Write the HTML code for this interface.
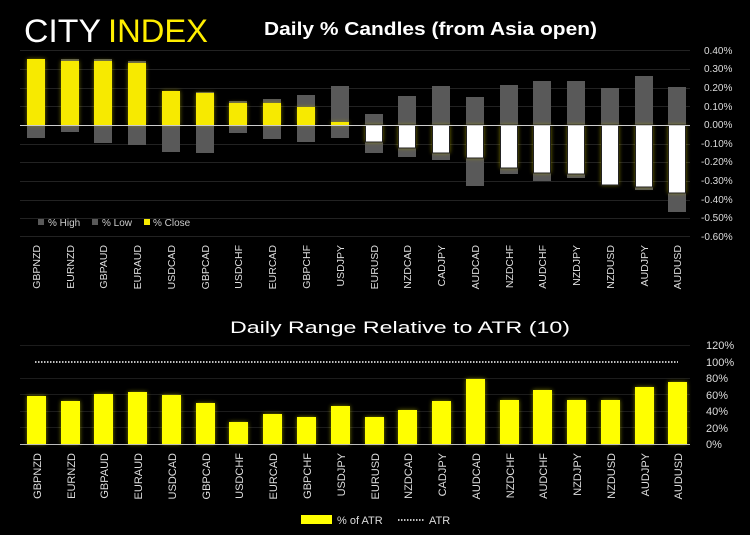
<!DOCTYPE html>
<html><head><style>
html,body{margin:0;padding:0;background:#000;}
svg{display:block;font-family:"Liberation Sans",sans-serif;}
</style></head><body>
<svg width="750" height="535" viewBox="0 0 750 535" xmlns="http://www.w3.org/2000/svg">
<defs>
<filter id="g" x="-50%" y="-50%" width="200%" height="200%"><feGaussianBlur stdDeviation="2"/></filter>
</defs>
<rect width="750" height="535" fill="#000"/>
<text x="24" y="42" font-size="32" fill="#fff" textLength="77" lengthAdjust="spacingAndGlyphs">CITY</text>
<text x="108" y="42" font-size="32" fill="#ffee00" textLength="100" lengthAdjust="spacingAndGlyphs">INDEX</text>
<text x="264" y="35" font-size="18" font-weight="bold" fill="#fff" textLength="333" lengthAdjust="spacingAndGlyphs">Daily % Candles (from Asia open)</text>
<g stroke="#222" stroke-width="1">
<line x1="20" x2="690" y1="50.5" y2="50.5"/><line x1="20" x2="690" y1="69.5" y2="69.5"/><line x1="20" x2="690" y1="88.5" y2="88.5"/><line x1="20" x2="690" y1="106.5" y2="106.5"/><line x1="20" x2="690" y1="144.5" y2="144.5"/><line x1="20" x2="690" y1="162.5" y2="162.5"/><line x1="20" x2="690" y1="181.5" y2="181.5"/><line x1="20" x2="690" y1="200.5" y2="200.5"/><line x1="20" x2="690" y1="218.5" y2="218.5"/><line x1="20" x2="690" y1="236.5" y2="236.5"/>
</g>
<g font-size="10" fill="#ddd">
<text x="704" y="54">0.40%</text><text x="704" y="72">0.30%</text><text x="704" y="91">0.20%</text><text x="704" y="110">0.10%</text><text x="704" y="128">0.00%</text><text x="701" y="147">-0.10%</text><text x="701" y="165">-0.20%</text><text x="701" y="184">-0.30%</text><text x="701" y="203">-0.40%</text><text x="701" y="221">-0.50%</text><text x="701" y="240">-0.60%</text>
</g>
<!-- gray high-low -->
<g fill="#595959">
<rect x="27" y="59" width="18" height="79"/><rect x="61" y="59" width="18" height="73"/><rect x="94" y="59" width="18" height="84"/><rect x="128" y="61" width="18" height="84"/><rect x="162" y="91" width="18" height="61"/><rect x="196" y="92" width="18" height="61"/><rect x="229" y="101" width="18" height="32"/><rect x="263" y="99" width="18" height="40"/><rect x="297" y="95" width="18" height="47"/><rect x="331" y="86" width="18" height="52"/><rect x="365" y="114" width="18" height="39"/><rect x="398" y="96" width="18" height="61"/><rect x="432" y="86" width="18" height="74"/><rect x="466" y="97" width="18" height="89"/><rect x="500" y="85" width="18" height="89"/><rect x="533" y="81" width="18" height="100"/><rect x="567" y="81" width="18" height="97"/><rect x="601" y="88" width="18" height="97"/><rect x="635" y="76" width="18" height="114"/><rect x="668" y="87" width="18" height="125"/>
</g>
<!-- glows -->
<g fill="#aaa000" opacity="0.7" filter="url(#g)">
<rect x="27" y="59" width="18" height="66"/><rect x="61" y="61" width="18" height="64"/><rect x="94" y="61" width="18" height="64"/><rect x="128" y="63" width="18" height="62"/><rect x="162" y="91" width="18" height="34"/><rect x="196" y="93" width="18" height="32"/><rect x="229" y="103" width="18" height="22"/><rect x="263" y="103" width="18" height="22"/><rect x="297" y="107" width="18" height="18"/><rect x="331" y="122" width="18" height="3"/>
<rect x="365" y="125" width="18" height="17"/><rect x="398" y="125" width="18" height="23"/><rect x="432" y="125" width="18" height="28"/><rect x="466" y="125" width="18" height="33"/><rect x="500" y="125" width="18" height="43"/><rect x="533" y="125" width="18" height="48"/><rect x="567" y="125" width="18" height="49"/><rect x="601" y="125" width="18" height="60"/><rect x="635" y="125" width="18" height="62"/><rect x="668" y="125" width="18" height="68"/>
</g>
<g fill="#f7ea00">
<rect x="27" y="59" width="18" height="66"/><rect x="61" y="61" width="18" height="64"/><rect x="94" y="61" width="18" height="64"/><rect x="128" y="63" width="18" height="62"/><rect x="162" y="91" width="18" height="34"/><rect x="196" y="93" width="18" height="32"/><rect x="229" y="103" width="18" height="22"/><rect x="263" y="103" width="18" height="22"/><rect x="297" y="107" width="18" height="18"/><rect x="331" y="122" width="18" height="3"/>
</g>
<g fill="#fff" stroke="#222" stroke-width="1">
<rect x="365.5" y="125" width="17" height="17"/><rect x="398.5" y="125" width="17" height="23"/><rect x="432.5" y="125" width="17" height="28"/><rect x="466.5" y="125" width="17" height="33"/><rect x="500.5" y="125" width="17" height="43"/><rect x="533.5" y="125" width="17" height="48"/><rect x="567.5" y="125" width="17" height="49"/><rect x="601.5" y="125" width="17" height="60"/><rect x="635.5" y="125" width="17" height="62"/><rect x="668.5" y="125" width="17" height="68"/>
</g>
<line x1="20" x2="690" y1="125.5" y2="125.5" stroke="#ccc" stroke-width="1"/>
<!-- legend top -->
<rect x="38" y="219" width="6" height="6" fill="#595959"/><text x="48" y="226" font-size="10" fill="#ccc">% High</text>
<rect x="92" y="219" width="6" height="6" fill="#595959"/><text x="102" y="226" font-size="10" fill="#ccc">% Low</text>
<rect x="144" y="219" width="6" height="6" fill="#f7ea00"/><text x="153" y="226" font-size="10" fill="#ccc">% Close</text>
<!-- top x labels -->
<g font-size="10.5" fill="#ddd" text-anchor="end">
<text transform="translate(40,245) rotate(-90)">GBPNZD</text><text transform="translate(74,245) rotate(-90)">EURNZD</text><text transform="translate(107,245) rotate(-90)">GBPAUD</text><text transform="translate(141,245) rotate(-90)">EURAUD</text><text transform="translate(175,245) rotate(-90)">USDCAD</text><text transform="translate(209,245) rotate(-90)">GBPCAD</text><text transform="translate(242,245) rotate(-90)">USDCHF</text><text transform="translate(276,245) rotate(-90)">EURCAD</text><text transform="translate(310,245) rotate(-90)">GBPCHF</text><text transform="translate(344,245) rotate(-90)">USDJPY</text><text transform="translate(378,245) rotate(-90)">EURUSD</text><text transform="translate(411,245) rotate(-90)">NZDCAD</text><text transform="translate(445,245) rotate(-90)">CADJPY</text><text transform="translate(479,245) rotate(-90)">AUDCAD</text><text transform="translate(513,245) rotate(-90)">NZDCHF</text><text transform="translate(546,245) rotate(-90)">AUDCHF</text><text transform="translate(580,245) rotate(-90)">NZDJPY</text><text transform="translate(614,245) rotate(-90)">NZDUSD</text><text transform="translate(648,245) rotate(-90)">AUDJPY</text><text transform="translate(681,245) rotate(-90)">AUDUSD</text>
</g>
<!-- bottom chart -->
<text x="400" y="333" font-size="17" fill="#fff" text-anchor="middle" textLength="340" lengthAdjust="spacingAndGlyphs">Daily Range Relative to ATR (10)</text>
<g stroke="#1c1c1c"><line x1="20" x2="690" y1="345.5" y2="345.5"/><line x1="20" x2="690" y1="378.5" y2="378.5"/><line x1="20" x2="690" y1="394.5" y2="394.5"/><line x1="20" x2="690" y1="411.5" y2="411.5"/><line x1="20" x2="690" y1="427.5" y2="427.5"/></g>
<g font-size="11" fill="#ddd">
<text x="706" y="349">120%</text><text x="706" y="366">100%</text><text x="706" y="382">80%</text><text x="706" y="399">60%</text><text x="706" y="415">40%</text><text x="706" y="432">20%</text><text x="706" y="448">0%</text>
</g>
<g fill="#cccc00" opacity="0.6" filter="url(#g)">
<rect x="27" y="396" width="19" height="48"/><rect x="61" y="401" width="19" height="43"/><rect x="94" y="394" width="19" height="50"/><rect x="128" y="392" width="19" height="52"/><rect x="162" y="395" width="19" height="49"/><rect x="196" y="403" width="19" height="41"/><rect x="229" y="422" width="19" height="22"/><rect x="263" y="414" width="19" height="30"/><rect x="297" y="417" width="19" height="27"/><rect x="331" y="406" width="19" height="38"/><rect x="365" y="417" width="19" height="27"/><rect x="398" y="410" width="19" height="34"/><rect x="432" y="401" width="19" height="43"/><rect x="466" y="379" width="19" height="65"/><rect x="500" y="400" width="19" height="44"/><rect x="533" y="390" width="19" height="54"/><rect x="567" y="400" width="19" height="44"/><rect x="601" y="400" width="19" height="44"/><rect x="635" y="387" width="19" height="57"/><rect x="668" y="382" width="19" height="62"/>
</g>
<g fill="#ffff00">
<rect x="27" y="396" width="19" height="48"/><rect x="61" y="401" width="19" height="43"/><rect x="94" y="394" width="19" height="50"/><rect x="128" y="392" width="19" height="52"/><rect x="162" y="395" width="19" height="49"/><rect x="196" y="403" width="19" height="41"/><rect x="229" y="422" width="19" height="22"/><rect x="263" y="414" width="19" height="30"/><rect x="297" y="417" width="19" height="27"/><rect x="331" y="406" width="19" height="38"/><rect x="365" y="417" width="19" height="27"/><rect x="398" y="410" width="19" height="34"/><rect x="432" y="401" width="19" height="43"/><rect x="466" y="379" width="19" height="65"/><rect x="500" y="400" width="19" height="44"/><rect x="533" y="390" width="19" height="54"/><rect x="567" y="400" width="19" height="44"/><rect x="601" y="400" width="19" height="44"/><rect x="635" y="387" width="19" height="57"/><rect x="668" y="382" width="19" height="62"/>
</g>
<line x1="20" x2="690" y1="444.5" y2="444.5" stroke="#bbb"/>
<line x1="35" x2="678" y1="362" y2="362" stroke="#fff" stroke-width="1.5" stroke-dasharray="1.5,1.5"/>
<g font-size="11" fill="#ddd" text-anchor="end">
<text transform="translate(41,453) rotate(-90)">GBPNZD</text><text transform="translate(75,453) rotate(-90)">EURNZD</text><text transform="translate(108,453) rotate(-90)">GBPAUD</text><text transform="translate(142,453) rotate(-90)">EURAUD</text><text transform="translate(176,453) rotate(-90)">USDCAD</text><text transform="translate(210,453) rotate(-90)">GBPCAD</text><text transform="translate(243,453) rotate(-90)">USDCHF</text><text transform="translate(277,453) rotate(-90)">EURCAD</text><text transform="translate(311,453) rotate(-90)">GBPCHF</text><text transform="translate(345,453) rotate(-90)">USDJPY</text><text transform="translate(379,453) rotate(-90)">EURUSD</text><text transform="translate(412,453) rotate(-90)">NZDCAD</text><text transform="translate(446,453) rotate(-90)">CADJPY</text><text transform="translate(480,453) rotate(-90)">AUDCAD</text><text transform="translate(514,453) rotate(-90)">NZDCHF</text><text transform="translate(547,453) rotate(-90)">AUDCHF</text><text transform="translate(581,453) rotate(-90)">NZDJPY</text><text transform="translate(615,453) rotate(-90)">NZDUSD</text><text transform="translate(649,453) rotate(-90)">AUDJPY</text><text transform="translate(682,453) rotate(-90)">AUDUSD</text>
</g>
<rect x="301" y="515" width="31" height="9" fill="#ffff00"/>
<text x="337" y="524" font-size="11" fill="#ddd">% of ATR</text>
<line x1="398" x2="425" y1="520" y2="520" stroke="#fff" stroke-width="1.5" stroke-dasharray="1.5,1.5"/>
<text x="429" y="524" font-size="11" fill="#ddd">ATR</text>
</svg>
</body></html>
